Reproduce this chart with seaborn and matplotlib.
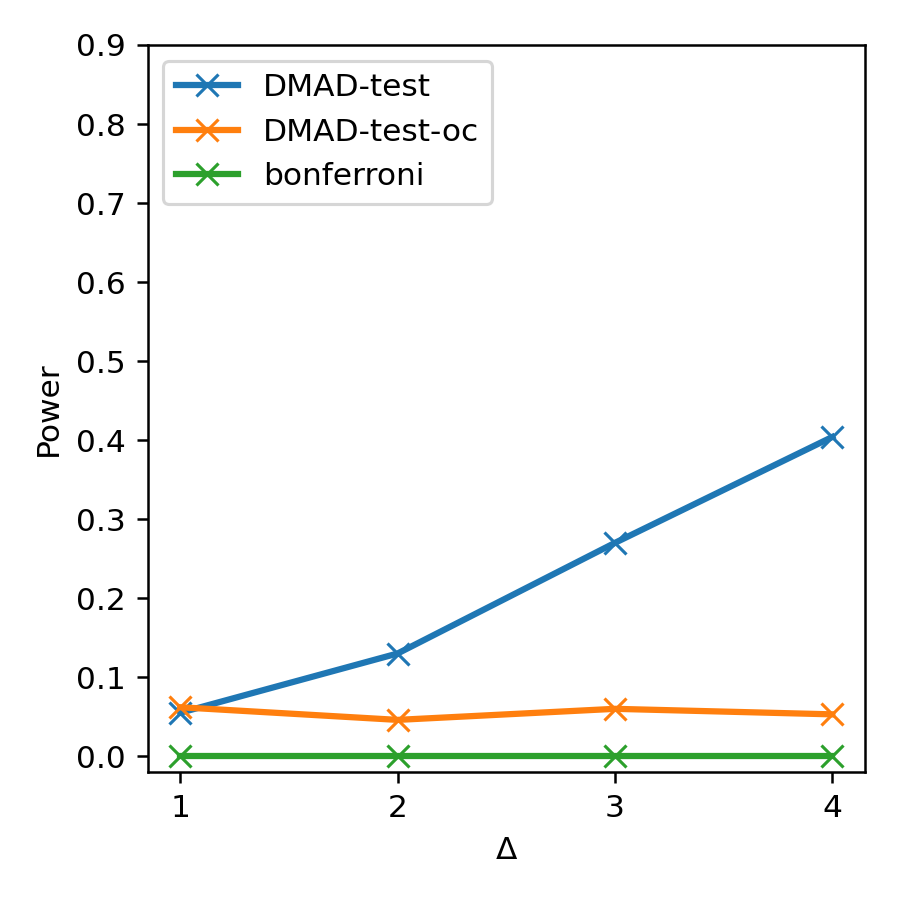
import numpy as np
import pandas as pd
import matplotlib
matplotlib.use("Agg")
import matplotlib.pyplot as plt
import seaborn as sns

# Δ values and power for each method
delta = [1, 2, 3, 4]
dmad_test = [0.055, 0.130, 0.270, 0.404]
dmad_test_oc = [0.062, 0.046, 0.060, 0.053]
bonferroni = [0.0, 0.0, 0.0, 0.0]

series = [
    ("DMAD-test", dmad_test, "#1f77b4"),
    ("DMAD-test-oc", dmad_test_oc, "#ff7f0e"),
    ("bonferroni", bonferroni, "#2ca02c"),
]

fig, ax = plt.subplots(figsize=(4, 4), dpi=225)
fig.subplots_adjust(left=0.164, right=0.961, bottom=0.142, top=0.95)

for name, vals, col in series:
    df = pd.DataFrame({"delta": delta, "power": vals})
    sns.lineplot(data=df, x="delta", y="power", ax=ax, label=name, color=col,
                 marker="x", markersize=7, mec=col, mew=1.0, linewidth=2)

ax.set_ylim(top=0.9)
ax.set_xticks(delta)
ax.set_yticks(np.arange(0, 0.91, 0.1))
ax.set_xlabel("Δ")
ax.set_ylabel("Power")
ax.legend(loc="upper left")

fig.savefig("out.png", dpi=225)
